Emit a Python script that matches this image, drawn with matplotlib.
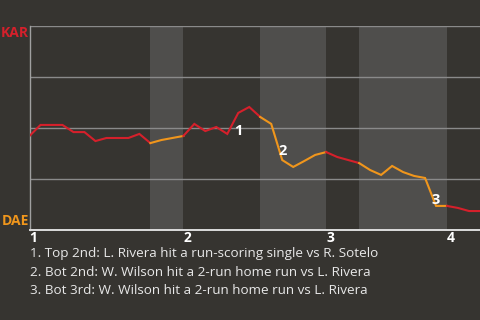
import matplotlib
matplotlib.use("Agg")
import matplotlib.pyplot as plt

# win probability for KAR (%), one value per plate appearance
kar_wp = [46.1, 51.5, 51.5, 51.5, 48.0, 48.0, 43.6, 45.1, 45.1, 45.1,
          47.1, 42.6, 44.1, 45.1, 46.1, 52.0, 48.5, 50.5, 47.1, 57.4,
          60.3, 55.4, 52.0, 34.3, 30.9, 33.8, 36.8, 38.2, 35.8, 34.3,
          32.8, 29.4, 27.0, 31.4, 28.4, 26.5, 25.5, 11.8, 11.8, 10.8,
          9.3, 9.3]

# half-inning boundaries (plate appearance index)
half_starts = [0, 11, 14, 21, 27, 30, 38, 41]
inning_labels = ["1", "2", "3", "4"]
inning_starts = [0, 14, 27, 38]

# key events: (index, label)
event_idx = [19, 23, 37]
event_lab = ["1", "2", "3"]
event_notes = [
    "1. Top 2nd: L. Rivera hit a run-scoring single vs R. Sotelo",
    "2. Bot 2nd: W. Wilson hit a 2-run home run vs L. Rivera",
    "3. Bot 3rd: W. Wilson hit a 2-run home run vs L. Rivera",
]

BG = "#363430"
SHADE = "#4f4e4c"
RED = "#d5202b"
ORANGE = "#f0961c"
FONT = "Open Sans"

fig = plt.figure(figsize=(4.8, 3.2), dpi=100, facecolor=BG)
ax = fig.add_axes([29.5 / 480, 90 / 320, 1 - 29.5 / 480, 204 / 320])
ax.set_facecolor(BG)
ax.set_xlim(0, 41)
ax.set_ylim(0, 100)

# shaded bottom halves + colored line segments
for k in range(len(half_starts) - 1):
    a, b = half_starts[k], half_starts[k + 1]
    bottom = k % 2 == 1
    if bottom:
        ax.axvspan(a, b, color=SHADE, lw=0, zorder=0)
    xs = list(range(a, min(b, len(kar_wp) - 1) + 1))
    ax.plot(xs, [kar_wp[i] for i in xs], color=ORANGE if bottom else RED,
            lw=1.5, zorder=3, solid_joinstyle="miter")

for g in [25, 50, 75, 100]:
    ax.axhline(g, color="#8a8a8a", lw=1, zorder=1)

for s in ["top", "right"]:
    ax.spines[s].set_visible(False)
ax.spines["left"].set_color("#a0a0a0")
ax.spines["left"].set_linewidth(1)
ax.spines["bottom"].set_color("#dcdcdc")
ax.spines["bottom"].set_linewidth(1.4)

ax.set_yticks([])
ax.set_xticks(inning_starts)
ax.set_xticklabels(inning_labels, fontfamily=FONT, fontweight="bold",
                   fontsize=10, color="white", ha="left")
ax.tick_params(axis="x", length=0, pad=0.5)

offsets = [-13, 6.5, 4.5]
for i, lab, off in zip(event_idx, event_lab, offsets):
    ax.annotate(lab, (i, kar_wp[i]), xytext=(0, off), textcoords="offset points",
                ha="center", va="center", fontfamily=FONT, fontweight="bold",
                fontsize=10.5, color="white", zorder=5)

fig.text(15 / 480, 1 - 33 / 320, "KAR", color=RED, fontfamily=FONT,
         fontweight="bold", fontsize=10, ha="center", va="center")
fig.text(15 / 480, 1 - 221 / 320, "DAE", color=ORANGE, fontfamily=FONT,
         fontweight="bold", fontsize=10, ha="center", va="center")

for j, note in enumerate(event_notes):
    fig.text(30 / 480, 1 - (254 + 18 * j) / 320, note, color="#e8e8e8",
             fontfamily=FONT, fontsize=9.7, ha="left", va="center")

fig.savefig("out.png", dpi=100, facecolor=BG)
